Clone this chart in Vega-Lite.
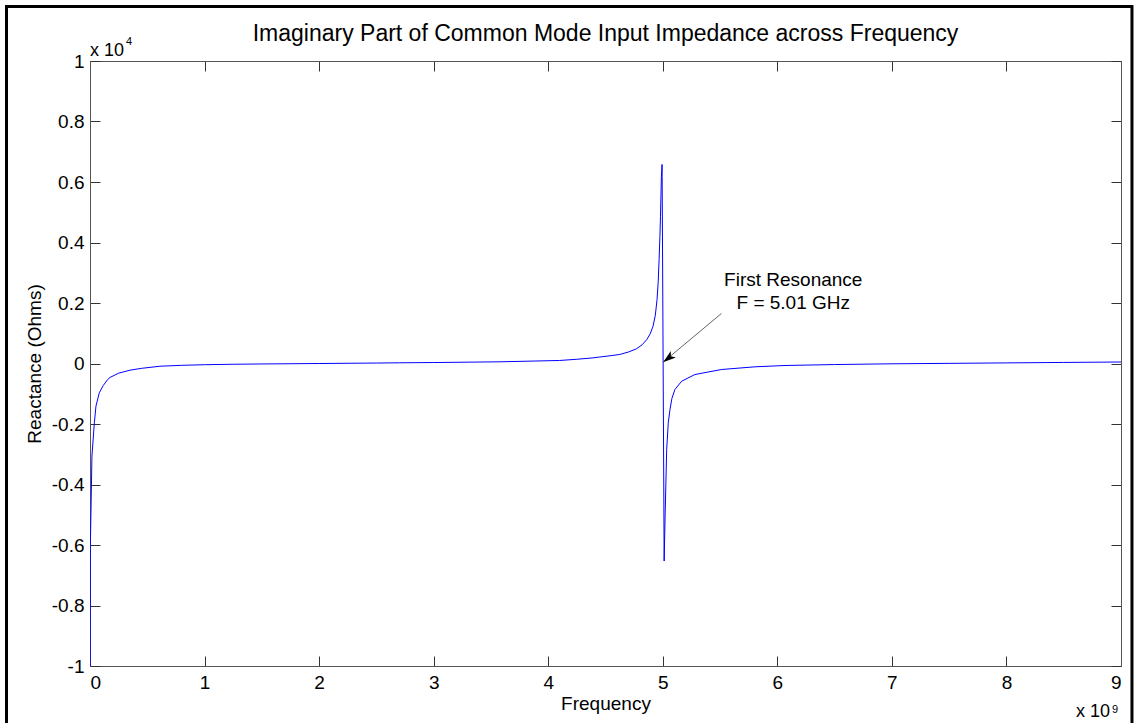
{
  "$schema": "https://vega.github.io/schema/vega-lite/v6.json",
  "autosize": "none",
  "width": 1031,
  "height": 605,
  "padding": {"left": 90, "top": 61, "right": 15, "bottom": 57},
  "background": "white",
  "title": {
    "text": "Imaginary Part of Common Mode Input Impedance across Frequency",
    "font": "Liberation Sans",
    "fontSize": 23,
    "fontWeight": "normal",
    "color": "black",
    "anchor": "middle",
    "baseline": "alphabetic",
    "offset": -59
  },
  "config": {
    "view": {"stroke": null},
    "font": "Liberation Sans",
    "axis": {
      "grid": false,
      "domainColor": "#555555",
      "tickColor": "#333333",
      "labelColor": "black",
      "titleColor": "black",
      "labelFont": "Liberation Sans",
      "titleFont": "Liberation Sans",
      "labelFontSize": 19,
      "titleFontSize": 19,
      "titleFontWeight": "normal"
    }
  },
  "datasets": {
    "curve": [
      {"f": 0.002, "X": -10000},
      {"f": 0.003, "X": -6040},
      {"f": 0.017, "X": -3060},
      {"f": 0.038, "X": -1960},
      {"f": 0.052, "X": -1410},
      {"f": 0.081, "X": -970},
      {"f": 0.115, "X": -730},
      {"f": 0.154, "X": -530},
      {"f": 0.175, "X": -460},
      {"f": 0.25, "X": -320},
      {"f": 0.35, "X": -220},
      {"f": 0.45, "X": -160},
      {"f": 0.61, "X": -90},
      {"f": 0.8, "X": -60},
      {"f": 1.0, "X": -40},
      {"f": 1.25, "X": -25},
      {"f": 1.5, "X": -15},
      {"f": 2.0, "X": 0},
      {"f": 2.5, "X": 15},
      {"f": 2.7, "X": 23},
      {"f": 3.0, "X": 32},
      {"f": 3.58, "X": 56},
      {"f": 4.1, "X": 100},
      {"f": 4.25, "X": 140},
      {"f": 4.39, "X": 185},
      {"f": 4.45, "X": 215},
      {"f": 4.55, "X": 260},
      {"f": 4.625, "X": 300},
      {"f": 4.7, "X": 380},
      {"f": 4.77, "X": 485},
      {"f": 4.82, "X": 620},
      {"f": 4.86, "X": 790},
      {"f": 4.89, "X": 980},
      {"f": 4.915, "X": 1230},
      {"f": 4.935, "X": 1600},
      {"f": 4.95, "X": 2115},
      {"f": 4.96, "X": 2700},
      {"f": 4.968, "X": 3440},
      {"f": 4.975, "X": 4200},
      {"f": 4.98, "X": 4870},
      {"f": 4.988, "X": 6190},
      {"f": 4.994, "X": 6580},
      {"f": 5.012, "X": -6530},
      {"f": 5.021, "X": -4940},
      {"f": 5.034, "X": -2840},
      {"f": 5.048, "X": -1960},
      {"f": 5.063, "X": -1520},
      {"f": 5.08, "X": -1150},
      {"f": 5.106, "X": -860},
      {"f": 5.165, "X": -585},
      {"f": 5.281, "X": -364},
      {"f": 5.514, "X": -198},
      {"f": 5.805, "X": -110},
      {"f": 6.067, "X": -66},
      {"f": 6.5, "X": -35},
      {"f": 7.0, "X": -10},
      {"f": 7.5, "X": 5},
      {"f": 8.0, "X": 20},
      {"f": 8.5, "X": 35},
      {"f": 9.0, "X": 50}
    ],
    "arrow": [
      {"f1": 5.512, "X1": 1653, "f2": 5.003, "X2": 43}
    ],
    "notes": [
      {"f": 6.139, "X": 2555, "label": "First Resonance"},
      {"f": 6.139, "X": 1818, "label": "F = 5.01 GHz"}
    ],
    "one": [{}]
  },
  "layer": [
    {
      "data": {"name": "curve"},
      "mark": {"type": "line", "color": "#0000ff", "strokeWidth": 1, "clip": true},
      "encoding": {
        "x": {
          "field": "f", "type": "quantitative",
          "scale": {"domain": [0, 9], "nice": false, "zero": false},
          "axis": {
            "orient": "bottom", "title": "Frequency",
            "values": [0, 1, 2, 3, 4, 5, 6, 7, 8, 9],
            "format": "d", "tickSize": -10, "labelPadding": 17,
            "titlePadding": 2
          }
        },
        "y": {
          "field": "X", "type": "quantitative",
          "scale": {"domain": [-10000, 10000], "nice": false, "zero": false},
          "axis": {
            "orient": "left", "title": "Reactance (Ohms)",
            "values": [-10000, -8000, -6000, -4000, -2000, 0, 2000, 4000, 6000, 8000, 10000],
            "labelExpr": "'' + (datum.value / 10000)",
            "tickSize": -10, "labelPadding": 16,
            "titlePadding": 7
          }
        }
      }
    },
    {
      "data": {"name": "arrow"},
      "mark": {"type": "rule", "color": "#666666", "strokeWidth": 1},
      "encoding": {
        "x": {
          "field": "f1", "type": "quantitative",
          "axis": {"orient": "top", "title": null, "labels": false, "values": [0, 1, 2, 3, 4, 5, 6, 7, 8, 9], "tickSize": -10}
        },
        "y": {
          "field": "X1", "type": "quantitative",
          "axis": {"orient": "right", "title": null, "labels": false, "values": [-10000, -8000, -6000, -4000, -2000, 0, 2000, 4000, 6000, 8000, 10000], "tickSize": -10}
        },
        "x2": {"field": "f2"},
        "y2": {"field": "X2"}
      }
    },
    {
      "data": {"name": "arrow"},
      "mark": {
        "type": "point", "filled": true, "color": "black", "opacity": 1,
        "shape": "M0,0 L0.32,1 L0,0.75 L-0.32,1 Z",
        "size": 676, "angle": 232
      },
      "encoding": {
        "x": {"field": "f2", "type": "quantitative", "axis": null},
        "y": {"field": "X2", "type": "quantitative", "axis": null}
      }
    },
    {
      "data": {"name": "notes"},
      "mark": {"type": "text", "align": "center", "baseline": "alphabetic", "fontSize": 19, "color": "black", "font": "Liberation Sans"},
      "encoding": {
        "x": {"field": "f", "type": "quantitative", "axis": null},
        "y": {"field": "X", "type": "quantitative", "axis": null},
        "text": {"field": "label"}
      }
    },
    {
      "data": {"name": "one"},
      "mark": {"type": "text", "text": "x 10", "align": "left", "baseline": "alphabetic", "fontSize": 18, "color": "black", "dx": 0, "dy": -5, "font": "Liberation Sans"},
      "encoding": {
        "x": {"datum": 0, "type": "quantitative", "axis": null},
        "y": {"datum": 10000, "type": "quantitative", "axis": null}
      }
    },
    {
      "data": {"name": "one"},
      "mark": {"type": "text", "text": "4", "align": "left", "baseline": "alphabetic", "fontSize": 11, "color": "black", "dx": 36, "dy": -16, "font": "Liberation Sans"},
      "encoding": {
        "x": {"datum": 0, "type": "quantitative", "axis": null},
        "y": {"datum": 10000, "type": "quantitative", "axis": null}
      }
    },
    {
      "data": {"name": "one"},
      "mark": {"type": "text", "text": "x 10", "align": "right", "baseline": "alphabetic", "fontSize": 18, "color": "black", "dx": -11, "dy": 51, "font": "Liberation Sans"},
      "encoding": {
        "x": {"datum": 9, "type": "quantitative", "axis": null},
        "y": {"datum": -10000, "type": "quantitative", "axis": null}
      }
    },
    {
      "data": {"name": "one"},
      "mark": {"type": "text", "text": "9", "align": "left", "baseline": "alphabetic", "fontSize": 11, "color": "black", "dx": -9, "dy": 47, "font": "Liberation Sans"},
      "encoding": {
        "x": {"datum": 9, "type": "quantitative", "axis": null},
        "y": {"datum": -10000, "type": "quantitative", "axis": null}
      }
    },
    {
      "data": {"name": "one"},
      "mark": {"type": "rect", "filled": false, "fill": null, "stroke": "black", "strokeWidth": 3, "clip": false},
      "encoding": {
        "x": {"datum": -0.7289, "type": "quantitative", "axis": null},
        "x2": {"datum": 9.0958},
        "y": {"datum": 11802, "type": "quantitative", "axis": null},
        "y2": {"datum": -11951}
      }
    }
  ],
  "resolve": {"axis": {"x": "independent", "y": "independent"}}
}
